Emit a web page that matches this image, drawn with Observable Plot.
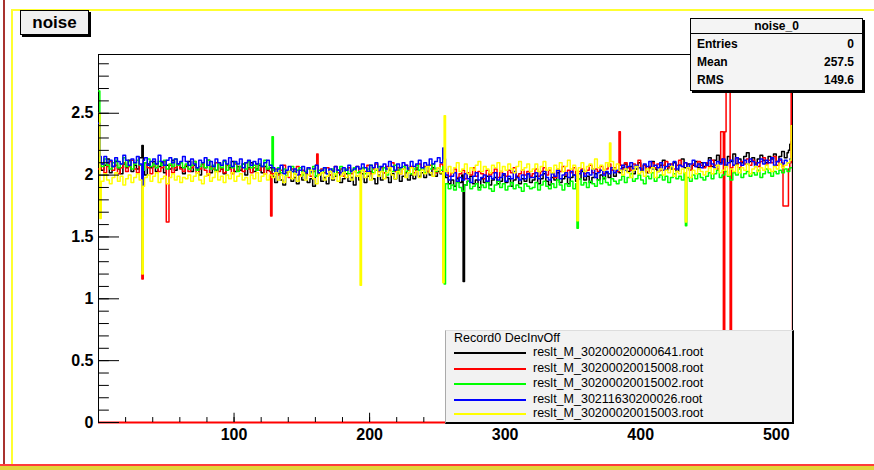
<!DOCTYPE html>
<html><head><meta charset="utf-8">
<script src="https://cdn.jsdelivr.net/npm/d3@7"></script>
<script src="https://cdn.jsdelivr.net/npm/@observablehq/plot@0.6"></script>
<style>
body{margin:0;background:#fff;}
#wrap{position:relative;width:874px;height:470px;overflow:hidden;background:#fff;font-family:"Liberation Sans",Arial,sans-serif;}
#chart{position:absolute;left:0;top:0;}
.bar{position:absolute;}
#title{position:absolute;left:20px;top:10px;width:67px;height:23px;background:#f0f0f0;border:1px solid #000;box-shadow:2px 2px 0 #000;font-weight:bold;font-size:17px;text-align:center;line-height:23px;}
#stats{position:absolute;left:690px;top:18px;width:171px;height:71px;background:#f4f4f4;border:1px solid #000;box-shadow:2px 2px 0 #000;font-weight:bold;font-size:12px;}
#stats .hd{height:14px;line-height:15px;text-align:center;border-bottom:1px solid #000;}
#stats .row{position:absolute;left:6px;right:8px;height:16px;line-height:16px;}
#stats .row span{position:absolute;right:0;}
#legend{position:absolute;left:445px;top:330px;width:346px;height:91px;background:#f2f2f2;border-left:1px solid #aaa;border-top:1px solid #ddd;border-right:2px solid #000;border-bottom:2px solid #000;font-size:12.5px;}
#legend .hd{position:absolute;left:8px;top:0px;line-height:14px;}
#legend .it{position:absolute;left:8px;height:14px;}
#legend .it i{position:absolute;left:0;top:6px;width:72px;height:2px;}
#legend .it b{position:absolute;left:79px;top:-1px;font-weight:normal;white-space:nowrap;line-height:15px;}
</style></head><body>
<div id="wrap">
<div id="chart"></div>
<div class="bar" style="left:3px;top:0;width:2px;height:470px;background:#a8332f"></div>
<div class="bar" style="left:12px;top:9px;width:862px;height:2px;background:#ffff30"></div>
<div class="bar" style="left:11px;top:9px;width:2px;height:456px;background:#ffff30"></div>
<div class="bar" style="left:0;top:464px;width:874px;height:2px;background:#ff3b3b"></div>
<div class="bar" style="left:0;top:466px;width:874px;height:4px;background:#e2d43a"></div>
<div id="title">noise</div>
<div id="stats"></div>
<div id="legend"></div>
</div>
<script>
// ---------- data ----------
const seriesNames = ["reslt_M_30200020000641.root","reslt_M_30200020015008.root","reslt_M_30200020015002.root","reslt_M_30211630200026.root","reslt_M_30200020015003.root"];
const seriesColors = ["#000000","#ff0000","#00ff00","#0000ff","#ffff00"];
const legendHeader = "Record0 DecInvOff";
const statsTitle = "noise_0";
const statsLabels = ["Entries","Mean","RMS"];
const statsValues = ["0","257.5","149.6"];
const plotTitle = "noise";

const nChannels = 512;
const binWidth = 2; // each base value covers 2 channels

const blackBase = [
2.10,2.04,2.08,2.13,2.02,2.07,2.11,2.05,2.01,2.09,2.06,2.12,2.03,2.08,2.05,2.14,2.04,2.00,2.09,2.06,2.11,2.03,2.07,2.10,2.02,2.08,2.05,2.12,2.04,2.09,2.06,2.01,
2.07,2.11,2.03,2.08,2.05,2.00,2.09,2.06,2.12,2.02,2.07,2.04,2.10,2.05,2.01,2.08,2.06,2.11,2.03,2.07,2.04,2.09,2.00,2.06,2.10,2.03,2.05,2.08,2.02,2.07,2.04,2.06,
1.99,1.94,2.01,1.96,1.92,1.99,2.03,1.95,1.98,1.93,2.00,1.96,2.02,1.94,1.97,1.91,1.99,2.02,1.95,1.98,1.93,2.00,1.96,1.99,2.04,1.94,1.97,2.01,1.95,1.98,1.92,1.99,
1.96,2.01,1.94,1.99,2.03,1.97,1.93,2.00,1.96,2.02,1.98,1.94,2.01,1.97,2.04,1.95,1.99,2.02,1.96,2.00,1.97,2.05,1.99,2.02,1.98,2.03,2.00,2.06,1.99,2.03,2.01,2.05,
1.98,1.93,1.96,1.91,1.97,1.94,2.00,1.92,1.95,1.99,1.93,1.96,1.90,1.97,1.94,1.99,1.92,1.96,1.98,1.93,1.95,2.00,1.94,1.97,1.91,1.96,1.99,1.93,1.97,1.95,2.01,1.94,
1.96,1.99,1.93,1.97,2.01,1.95,1.92,1.98,1.96,2.02,1.94,1.97,1.99,1.93,1.98,2.00,1.95,1.97,2.03,1.96,1.99,1.94,1.98,2.01,1.96,2.00,1.97,2.02,1.98,2.04,1.99,2.03,
2.02,2.06,2.09,2.03,2.07,2.01,2.05,2.10,2.04,2.08,2.02,2.06,2.11,2.05,2.03,2.08,2.12,2.04,2.07,2.05,2.10,2.03,2.08,2.13,2.06,2.09,2.04,2.08,2.11,2.06,2.10,2.07,
2.09,2.14,2.07,2.12,2.16,2.10,2.13,2.08,2.15,2.11,2.17,2.09,2.13,2.10,2.15,2.18,2.11,2.14,2.09,2.13,2.16,2.12,2.10,2.15,2.13,2.17,2.11,2.15,2.19,2.14,2.18,2.22];
const redBase = [
2.05,2.09,2.02,2.07,2.11,2.04,2.08,2.01,2.06,2.10,2.03,2.07,2.12,2.05,2.02,2.08,2.04,2.10,2.06,2.01,2.07,2.09,2.03,2.06,2.11,2.04,2.08,2.02,2.06,2.09,2.05,2.03,
2.08,2.03,2.06,2.11,2.02,2.05,2.09,2.04,2.00,2.07,2.05,2.10,2.03,2.06,2.02,2.08,2.05,2.01,2.09,2.04,2.07,2.03,2.10,2.05,2.02,2.06,2.09,2.04,2.07,2.01,2.05,2.03,
2.01,2.05,2.00,2.04,2.08,2.02,1.98,2.05,2.03,2.07,2.00,2.04,2.02,2.06,1.99,2.03,2.08,2.01,2.05,2.02,2.06,2.00,2.04,2.07,2.02,2.05,1.99,2.04,2.06,2.01,2.03,2.07,
2.02,2.06,2.03,2.08,2.01,2.05,2.09,2.03,2.06,2.02,2.07,2.04,2.10,2.03,2.06,2.01,2.05,2.08,2.04,2.07,2.02,2.06,2.09,2.04,2.07,2.03,2.08,2.05,2.02,2.06,2.09,2.05,
2.03,1.99,2.02,2.05,1.98,2.01,2.04,1.97,2.02,2.00,2.06,1.99,2.03,2.01,1.97,2.04,2.00,2.02,2.05,1.98,2.03,2.01,1.99,2.04,2.02,2.06,1.98,2.01,2.04,2.00,2.03,1.99,
2.01,2.05,1.99,2.03,2.06,2.00,2.04,2.02,1.98,2.05,2.03,2.07,2.00,2.04,2.02,2.06,1.99,2.03,2.05,2.01,2.04,2.08,2.02,2.05,2.03,2.07,2.01,2.05,2.09,2.04,2.06,2.03,
2.08,2.05,2.10,2.06,2.04,2.09,2.07,2.12,2.05,2.08,2.03,2.07,2.10,2.06,2.09,2.04,2.08,2.11,2.06,2.09,2.05,2.08,2.12,2.07,2.10,2.06,2.04,2.09,2.07,2.11,2.08,2.06,
2.10,2.07,2.12,2.08,2.05,2.11,2.09,2.13,2.07,2.10,2.08,2.14,2.06,2.11,2.09,2.13,2.08,2.12,2.10,2.07,2.11,2.14,2.09,2.12,2.10,2.15,2.08,2.12,2.10,2.14,2.11,2.13];
const greenBase = [
2.11,2.07,2.13,2.08,2.05,2.10,2.12,2.06,2.09,2.14,2.07,2.11,2.05,2.09,2.12,2.08,2.04,2.10,2.13,2.07,2.09,2.06,2.11,2.08,2.12,2.05,2.09,2.07,2.13,2.08,2.10,2.06,
2.09,2.05,2.08,2.11,2.04,2.07,2.10,2.06,2.12,2.05,2.08,2.03,2.09,2.06,2.11,2.04,2.08,2.06,2.10,2.03,2.07,2.09,2.05,2.11,2.06,2.08,2.04,2.09,2.07,2.12,2.05,2.08,
2.04,2.01,2.06,2.02,2.05,1.99,2.03,2.07,2.01,2.04,2.06,2.00,2.03,2.05,2.02,2.07,1.99,2.04,2.02,2.06,2.01,2.03,2.05,2.00,2.04,2.07,2.02,2.05,2.01,2.04,2.06,2.02,
2.03,2.06,2.01,2.05,2.08,2.02,2.04,2.07,2.03,2.06,2.00,2.05,2.03,2.08,2.02,2.05,2.07,2.03,2.06,2.01,2.05,2.08,2.04,2.06,2.02,2.07,2.05,2.09,2.03,2.06,2.04,2.07,
1.93,1.89,1.92,1.88,1.94,1.90,1.87,1.92,1.95,1.89,1.91,1.93,1.88,1.92,1.90,1.94,1.89,1.87,1.92,1.95,1.90,1.93,1.88,1.91,1.94,1.89,1.92,1.90,1.87,1.93,1.91,1.89,
1.90,1.94,1.88,1.92,1.95,1.91,1.89,1.93,1.90,1.96,1.92,1.88,1.93,1.91,1.95,1.89,1.93,1.97,1.92,1.94,1.90,1.95,1.93,1.91,1.96,1.93,1.98,1.94,1.92,1.97,1.95,1.93,
1.96,1.99,1.94,1.98,2.01,1.95,1.97,2.00,1.96,1.93,1.99,1.97,2.02,1.95,1.98,2.00,1.96,1.99,1.94,1.98,2.01,1.97,1.99,1.96,2.02,1.98,1.95,2.00,1.97,2.01,1.98,1.96,
1.99,2.02,1.97,2.01,2.04,1.98,2.00,2.03,1.99,1.96,2.02,2.00,2.05,1.98,2.01,2.03,1.99,2.02,2.00,2.04,1.98,2.01,2.05,2.02,1.99,2.03,2.01,2.04,2.02,2.05,2.03,2.06];
const blueBase = [
2.13,2.09,2.15,2.10,2.12,2.07,2.14,2.11,2.09,2.16,2.12,2.08,2.13,2.10,2.15,2.09,2.12,2.14,2.08,2.11,2.13,2.09,2.16,2.11,2.08,2.12,2.14,2.10,2.13,2.09,2.11,2.15,
2.11,2.08,2.13,2.09,2.06,2.12,2.10,2.14,2.08,2.11,2.07,2.13,2.10,2.08,2.12,2.09,2.14,2.07,2.11,2.09,2.13,2.06,2.10,2.12,2.08,2.11,2.09,2.13,2.07,2.10,2.12,2.08,
2.06,2.02,2.05,2.08,2.01,2.04,2.07,2.03,2.05,2.00,2.04,2.07,2.02,2.06,2.03,2.05,2.08,2.02,2.04,2.06,2.01,2.05,2.03,2.07,2.04,2.02,2.06,2.04,2.08,2.03,2.05,2.07,
2.05,2.09,2.06,2.03,2.08,2.06,2.10,2.04,2.07,2.09,2.05,2.11,2.07,2.04,2.09,2.06,2.10,2.08,2.05,2.11,2.07,2.09,2.12,2.06,2.10,2.08,2.13,2.09,2.11,2.14,2.10,2.13,
2.00,1.96,1.99,2.02,1.95,1.98,1.96,2.01,1.97,1.94,1.99,2.02,1.96,1.98,2.00,1.95,1.99,1.97,2.02,1.96,1.98,2.01,1.95,1.99,1.97,2.03,1.98,1.96,2.00,1.97,2.01,1.98,
1.98,2.02,1.97,2.00,2.03,1.98,1.96,2.01,1.99,2.04,1.97,2.00,2.02,1.98,2.03,2.00,1.97,2.01,2.04,1.99,2.02,2.00,2.05,1.98,2.02,2.04,2.00,2.03,2.01,2.06,2.02,2.04,
2.05,2.08,2.04,2.07,2.10,2.05,2.08,2.06,2.03,2.09,2.07,2.11,2.05,2.08,2.06,2.10,2.04,2.07,2.09,2.06,2.11,2.05,2.08,2.07,2.10,2.06,2.09,2.12,2.07,2.09,2.06,2.10,
2.08,2.12,2.09,2.06,2.11,2.09,2.13,2.07,2.10,2.12,2.08,2.14,2.10,2.08,2.12,2.09,2.13,2.11,2.07,2.10,2.13,2.09,2.12,2.10,2.14,2.08,2.11,2.13,2.09,2.12,2.10,2.13];
const yellowBase = [
1.99,1.95,2.01,1.96,1.93,1.98,2.02,1.95,1.99,1.92,1.97,2.00,1.94,1.98,2.01,1.96,1.91,1.98,2.00,1.95,1.99,2.02,1.94,1.97,1.99,1.93,1.98,2.01,1.96,1.99,1.94,1.98,
1.97,2.00,1.95,1.99,2.02,1.96,1.93,1.99,2.01,1.95,1.98,2.03,1.96,1.99,1.94,2.00,1.97,2.02,1.95,1.99,2.01,1.96,1.98,1.93,2.00,1.97,2.02,1.95,1.99,2.01,1.96,2.00,
1.98,2.02,1.96,2.00,1.94,1.99,2.03,1.97,2.01,1.95,1.99,2.02,1.96,2.00,2.04,1.97,1.93,2.00,2.02,1.96,1.99,2.03,1.97,2.01,1.95,1.99,2.02,1.98,2.00,1.96,2.03,1.99,
2.00,2.04,1.98,2.02,1.96,2.01,2.05,1.99,2.03,1.97,2.02,2.06,2.00,1.97,2.03,2.01,2.05,1.98,2.02,2.06,2.00,2.03,1.98,2.04,2.01,2.07,2.02,1.99,2.04,2.06,2.02,2.05,
2.03,2.07,2.02,2.06,2.10,2.03,2.05,2.09,2.01,2.06,2.04,2.08,2.11,2.03,2.07,2.05,2.02,2.08,2.06,2.10,2.03,2.07,2.04,2.09,2.05,2.02,2.07,2.11,2.04,2.06,2.09,2.03,
2.05,2.09,2.03,2.07,2.11,2.04,2.06,2.02,2.08,2.05,2.10,2.03,2.07,2.12,2.05,2.08,2.04,2.06,2.10,2.03,2.07,2.09,2.05,2.13,2.06,2.08,2.04,2.10,2.07,2.11,2.05,2.09,
2.04,2.00,2.05,2.02,1.98,2.04,2.07,2.01,2.03,1.99,2.05,2.02,2.06,1.98,2.03,2.05,2.00,2.04,2.02,2.07,1.99,2.03,2.01,2.05,2.02,2.06,1.98,2.04,2.01,2.05,2.03,2.00,
2.03,2.06,2.01,2.05,2.08,2.02,2.04,2.07,2.00,2.05,2.03,2.08,2.02,2.06,2.04,2.09,2.01,2.05,2.07,2.03,2.06,2.04,2.08,2.05,2.03,2.07,2.05,2.09,2.06,2.08,2.10,2.12];

// single-channel values [channel, value]
const blackSpikes = [[32,2.24],[269,1.14],[509,2.20],[510,2.25],[511,2.27]];
const redSpikes = [[32,1.16],[50,1.62],[51,1.62],[127,1.67],[161,2.17],[254,1.15],[384,2.35],[459,2.35],[460,2.35],[461,0],[462,2.35],[463,2.82],[464,2.82],[465,2.82],[466,0],[467,2.06],[505,1.75],[506,1.75],[507,1.75],[508,1.75],[509,2.05],[510,2.1],[511,2.9]];
const greenSpikes = [[0,2.68],[1,2.1],[128,2.31],[255,1.12],[353,1.57],[433,1.59]];
const blueSpikes = [[0,2.42],[1,2.15],[32,1.23],[254,2.22]];
const yellowSpikes = [[0,2.5],[1,1.65],[32,1.2],[193,1.11],[254,1.13],[255,2.48],[353,1.63],[377,2.26],[433,1.62],[511,2.4]];
const redTail = 0; // red histogram closes down to zero at the right edge

const xTickValues = [100,200,300,400,500];
const yTickValues = [0,0.5,1,1.5,2,2.5];
const yTickLabels = ["0","0.5","1","1.5","2","2.5"];

// ---------- build ----------
function build(base, spikes, tail) {
  const v = [];
  base.forEach(b => { for (let k = 0; k < binWidth; k++) v.push(b); });
  spikes.forEach(([c, val]) => { v[c] = val; });
  const pts = v.map((val, i) => ({ch: i, v: val}));
  pts.push({ch: nChannels, v: tail === undefined ? v[v.length - 1] : tail});
  return pts;
}
const seriesData = [
  build(blackBase, blackSpikes),
  build(redBase, redSpikes, redTail),
  build(greenBase, greenSpikes),
  build(blueBase, blueSpikes),
  build(yellowBase, yellowSpikes)
];

const yMax = 2.975;
const xMinor = d3.range(0, nChannels + 1, 20);
const yMinor = d3.range(0, 2.95, 0.1).map(d => +d.toFixed(1));
const yTickLenMajor = 15.5, yTickLenMinor = 8;   // in channel units
const xTickLenMajor = 0.075, xTickLenMinor = 0.04; // in y units

const marks = [
  Plot.ruleY([0], {x1: 0, x2: nChannels, stroke: "#000"}),
  Plot.ruleY([yMax], {x1: 0, x2: nChannels, stroke: "#000"}),
  Plot.ruleX([0, nChannels], {y1: 0, y2: yMax, stroke: "#000"}),
];
seriesData.forEach((d, i) => {
  marks.push(Plot.line(d, {x: "ch", y: "v", curve: "step-after", stroke: seriesColors[i], strokeWidth: 1.5, clip: true}));
});
marks.push(Plot.ruleY([0], {x1: 0, x2: nChannels, stroke: "#ff0000", strokeWidth: 2}));
marks.push(
  Plot.ruleY(yMinor, {y: d => d, x1: 0, x2: yTickLenMinor, stroke: "#000"}),
  Plot.ruleY(yTickValues, {y: d => d, x1: 0, x2: yTickLenMajor, stroke: "#000"}),
  Plot.ruleX(xMinor, {x: d => d, y1: 0, y2: xTickLenMinor, stroke: "#000"}),
  Plot.ruleX(xTickValues, {x: d => d, y1: 0, y2: xTickLenMajor, stroke: "#000"}),
  Plot.text(yTickValues, {x: 0, y: d => d, text: (d, i) => yTickLabels[i], textAnchor: "end", dx: -5, fontSize: 16, fontWeight: "bold", fill: "#000"}),
  Plot.text(xTickValues, {x: d => d, y: 0, text: d => String(d), dy: 12, fontSize: 16, fontWeight: "bold", fill: "#000"})
);

const chart = Plot.plot({
  width: 874, height: 470,
  marginLeft: 98, marginRight: 82, marginTop: 54, marginBottom: 48,
  x: {domain: [0, nChannels], axis: null},
  y: {domain: [0, yMax], axis: null},
  style: {fontFamily: "'Liberation Sans', Arial, sans-serif", background: "transparent", overflow: "visible"},
  marks
});
document.getElementById("chart").appendChild(chart);

// stats box
const stats = document.getElementById("stats");
stats.innerHTML = `<div class="hd">${statsTitle}</div>` + statsLabels.map((l, i) =>
  `<div class="row" style="top:${17 + i * 18}px">${l}<span>${statsValues[i]}</span></div>`).join("");
document.getElementById("title").textContent = plotTitle;
// legend
const leg = document.getElementById("legend");
const tops = [15, 31, 46, 62, 76];
leg.innerHTML = `<div class="hd">${legendHeader}</div>` + seriesNames.map((n, i) =>
  `<div class="it" style="top:${tops[i]}px"><i style="background:${seriesColors[i]}"></i><b>${n}</b></div>`).join("");
</script>
</body></html>
